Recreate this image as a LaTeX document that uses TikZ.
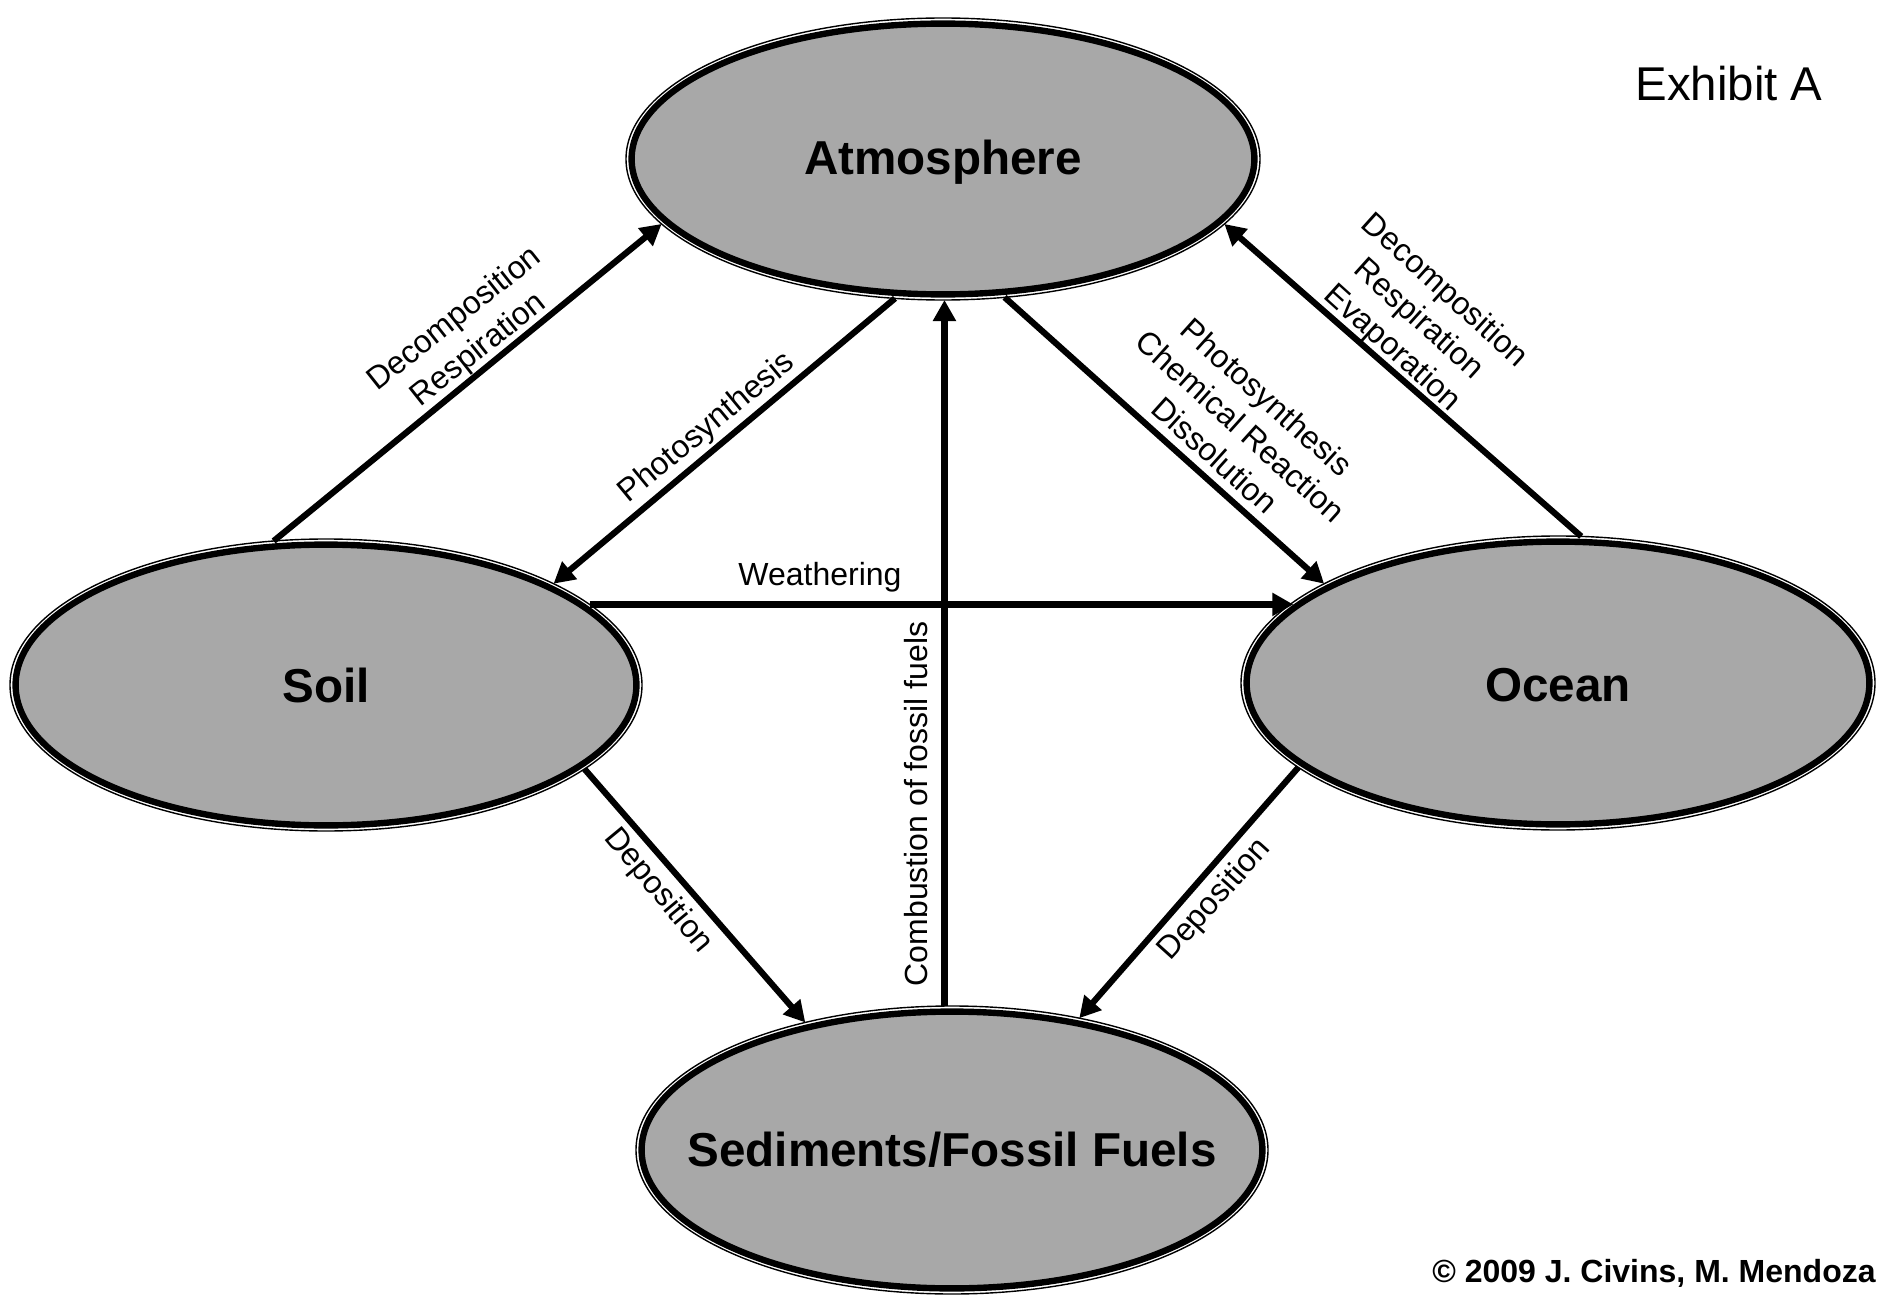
\documentclass[tikz,border=0pt]{standalone}
\usepackage{fontspec}
\setmainfont{Liberation Sans}
\usetikzlibrary{arrows.meta,shapes.geometric}
\definecolor{poolgray}{RGB}{168,168,168}
\begin{document}
\begin{tikzpicture}[x=0.5pt,y=-0.5pt,
  pool/.style={ellipse, draw, line width=3.2pt, fill=poolgray, inner sep=0pt, outer sep=2.8pt},
  rim/.style={line width=0.7pt},
  flow/.style={line width=3.1pt, -{Triangle[length=10.5pt,width=11pt]}},
  lbl/.style={font=\fontsize{16}{19.5}\selectfont, align=center, inner sep=0pt},
  title/.style={font=\fontsize{23.8}{28}\selectfont\bfseries, inner sep=0pt}]
\useasboundingbox (0,0) rectangle (1881,1295);
% pools
\node[pool, minimum width=311.4pt, minimum height=135.4pt, label={[title, yshift=-1.8pt]center:Atmosphere}] (atm) at (943,159) {};
\node[pool, minimum width=310.4pt, minimum height=140.4pt, label={[title]center:Soil}] (soil) at (326,685) {};
\node[pool, minimum width=311.4pt, minimum height=141.4pt, label={[title, yshift=-1.2pt]center:Ocean}] (ocean) at (1558,683) {};
\node[pool, minimum width=310.4pt, minimum height=138.4pt, label={[title]center:Sediments/Fossil Fuels}] (sed) at (952,1150) {};
\draw[rim] (atm.center) ellipse [x radius=158.5pt, y radius=70.5pt];
\draw[rim] (soil.center) ellipse [x radius=158pt, y radius=73pt];
\draw[rim] (ocean.center) ellipse [x radius=158.5pt, y radius=73.5pt];
\draw[rim] (sed.center) ellipse [x radius=158pt, y radius=72pt];
% flows
\draw[flow] (soil.110.4) -- (atm.193.7);
\draw[flow] (atm.251.1) -- (soil.24.1);
\draw[flow] (sed.93) -- (sed.93 |- atm.south);
\draw[flow] (atm.294.4) -- (ocean.157.4);
\draw[flow] (ocean.81.3) -- (atm.347.1);
\draw[flow] (soil.17.1) -- (ocean.163 |- soil.17.1);
\draw[flow] (soil.342.7) -- (sed.139.6);
\draw[flow] (ocean.198.9) -- (sed.46.8);
% labels
\node[lbl, rotate=38.4] (l1) at (467,335) {Decomposition\\Respiration};
\node[lbl, rotate=39.5] (l2) at (707,428) {Photosynthesis};
\node[lbl, rotate=90] (l3) at (916,804) {Combustion of fossil fuels};
\node[lbl, rotate=-42] (l4) at (1241,426) {Photosynthesis\\Chemical Reaction\\Dissolution};
\node[lbl, rotate=-42] (l5) at (1418,320) {Decomposition\\Respiration\\Evaporation};
\node[lbl] (l6) at (820,577) {Weathering};
\node[lbl, rotate=-50.4] (l7) at (658,891) {Deposition};
\node[lbl, rotate=48] (l8) at (1215,900) {Deposition};
\node[font=\fontsize{23.7}{28}\selectfont, inner sep=0pt] (exh) at (1729,84) {Exhibit A};
\node[font=\fontsize{16}{19}\selectfont\bfseries, inner sep=0pt, anchor=east] (copy) at (1876,1273) {© 2009 J. Civins, M. Mendoza};
\end{tikzpicture}
\end{document}
